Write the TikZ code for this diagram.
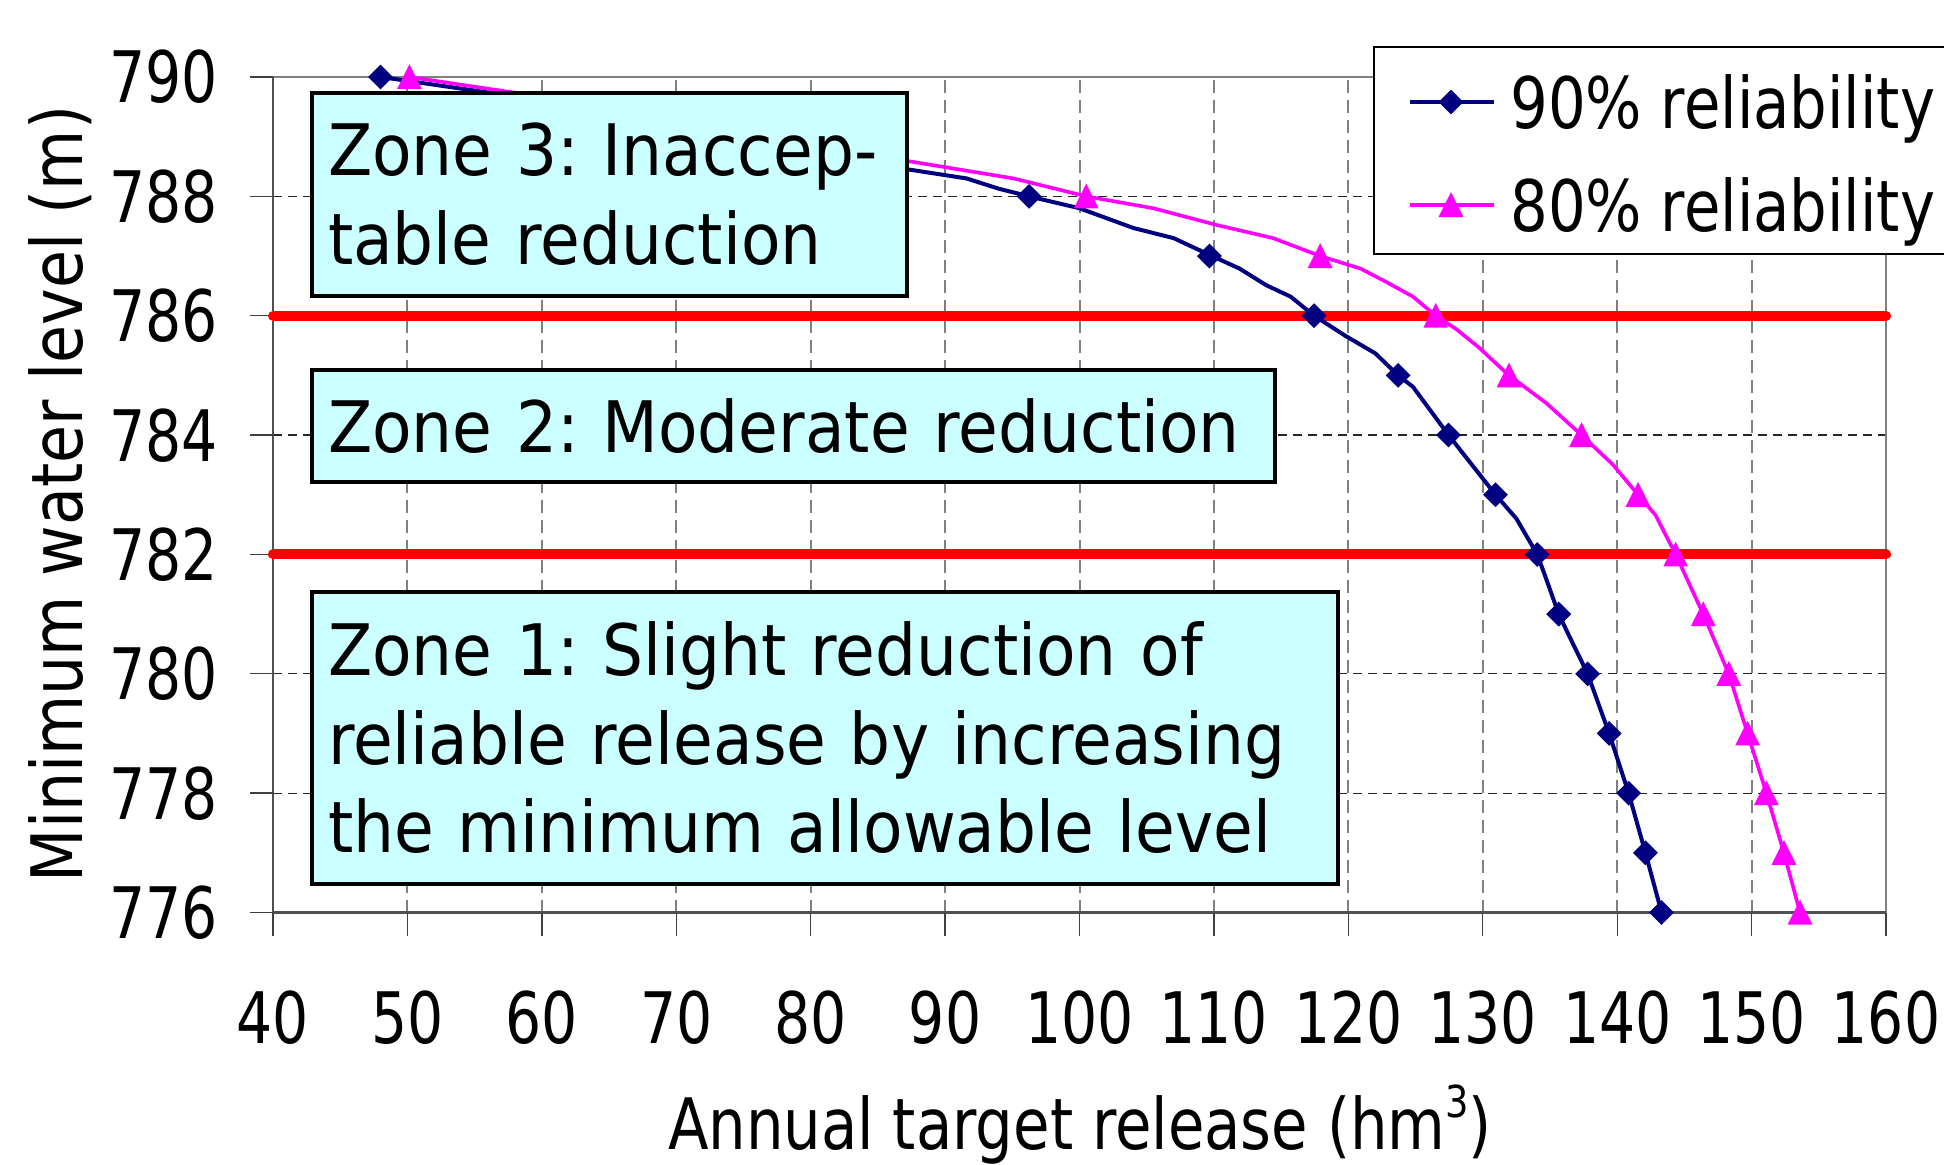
\documentclass[tikz,border=0pt]{standalone}
\usepackage{fontspec}
\setmainfont{DejaVu Sans}[FakeStretch=0.9]
\newfontfamily\zonefont{DejaVu Sans}[FakeStretch=0.91]
\newfontfamily\legfont{DejaVu Sans}[FakeStretch=0.835]
\newfontfamily\xtitlefont{DejaVu Sans}[FakeStretch=0.835]
\newfontfamily\ytitlefont{DejaVu Sans}[FakeStretch=0.87]
\newfontfamily\numfont{DejaVu Sans}[FakeStretch=0.8]

\definecolor{navyline}{RGB}{0,0,128}
\definecolor{pinkline}{RGB}{255,0,255}
\definecolor{zonecyan}{RGB}{204,255,255}
\definecolor{gridgray}{RGB}{128,128,128}
\definecolor{axisdark}{RGB}{80,80,80}
\definecolor{zonered}{RGB}{255,0,0}

\tikzset{
  bigtext/.style={inner sep=0pt, font=\fontsize{35.5pt}{44.3pt}\selectfont\frenchspacing},
  ticknum/.style={bigtext, font=\fontsize{35.5pt}{44.3pt}\selectfont\numfont},
  vgrid/.style={draw=gridgray, line width=1pt, dash pattern=on 6.5pt off 3.5pt},
  hgrid/.style={draw=black!85, line width=0.6pt, dash pattern=on 4.5pt off 3pt},
  framelight/.style={draw=gridgray, line width=1.3pt},
  framedark/.style={draw=axisdark, line width=1.3pt},
  tickmark/.style={draw=black!75, line width=0.7pt},
  zoneline/.style={draw=zonered, line width=5pt, line cap=round},
  series90/.style={draw=navyline, line width=2pt, line join=round},
  series80/.style={draw=pinkline, line width=1.8pt, line join=round},
  zonebox/.style={draw=black, line width=2pt, fill=zonecyan, align=left,
    anchor=north west, inner xsep=8pt, inner ysep=0pt,
    font=\fontsize{35.5pt}{44.3pt}\selectfont\zonefont\frenchspacing},
  legtext/.style={bigtext, anchor=base west, font=\fontsize{35.5pt}{44.3pt}\selectfont\legfont\frenchspacing},
  bluemark/.pic={\fill[navyline] (-6.2pt,0pt) -- (0pt,6.2pt) -- (6.2pt,0pt) -- (0pt,-6.2pt) -- cycle;},
  pinkmark/.pic={\fill[pinkline] (0pt,6.4pt) -- (6.2pt,-6pt) -- (-6.2pt,-6pt) -- cycle;}
}

\begin{document}
\begin{tikzpicture}[x=0.5pt,y=-0.5pt]
\useasboundingbox (0,0) rectangle (1944,1164);
\clip (0,0) rectangle (1944,1164);
\fill[white] (0,0) rectangle (1944,1164);

% plot area in data units: x = release, y = level - 776
\begin{scope}[shift={(-132.34pt,-456.25pt)}, x=6.721pt, y=29.84pt]
  % grid
  \foreach \v in {50,60,...,150} \draw[vgrid] (\v,0) -- (\v,14);
  \foreach \h in {2,4,...,12} \draw[hgrid] (40,\h) -- (160,\h);
  % frame
  \draw[framelight] (40,14) -- (160,14) -- (160,0);
  \draw[framedark] (40,14) -- (40,0) -- (160,0);
  % ticks
  \foreach \v in {40,50,...,160} \draw[tickmark] (\v,0) -- ++(0pt,-11.5pt);
  \foreach \h in {0,2,...,14} \draw[tickmark] (40,\h) -- ++(-11.5pt,0pt);
  % tick labels
  \foreach \v in {40,50,...,160}
    \node[ticknum, anchor=base, yshift=-65.25pt] (xl\v) at (\v,0) {\v};
  \foreach \m [evaluate=\m as \h using \m-776] in {776,778,...,790}
    \node[ticknum, anchor=base east, xshift=-27.5pt, yshift=-13pt] (yl\m) at (40,\h) {\m};
  % zone limits
  \draw[zoneline] (40,10) -- (160,10);
  \draw[zoneline] (40,6) -- (160,6);
  % 90% reliability
  \draw[series90] plot coordinates {(48,14) (56,13.74) (70,13.3) (80,12.9) (87,12.46)
    (91.6,12.30) (93.96,12.13) (96.25,12) (100,11.8) (104,11.47) (107,11.3)
    (109.66,11.02) (111.9,10.79) (113.9,10.51) (115.7,10.32) (117.45,10)
    (119.8,9.66) (122.0,9.37) (123.7,9) (124.8,8.81) (127.45,8) (129.9,7.3)
    (130.95,7) (132.5,6.6) (134.05,6) (134.7,5.6) (135.65,5) (136.5,4.6)
    (137.8,4) (139.4,3) (140.85,2) (142.1,1) (143.3,0)};
  \foreach \v/\h in {48/14, 96.25/12, 109.66/11, 117.45/10, 123.7/9, 127.45/8,
      130.95/7, 134.05/6, 135.65/5, 137.8/4, 139.4/3, 140.85/2, 142.1/1, 143.3/0}
    \pic at (\v,\h) {bluemark};
  % 80% reliability
  \draw[series80] plot coordinates {(50.15,14) (57,13.77) (70,13.35) (80,12.95)
    (87,12.6) (95.1,12.30) (100.5,12) (105.5,11.8) (110.2,11.52) (114.4,11.3)
    (117.9,11) (120.9,10.79) (122.7,10.58) (124.8,10.32) (126.5,10) (128.0,9.78)
    (129.75,9.46) (130.6,9.28) (131.95,9) (134.7,8.54) (137.35,8) (139.7,7.5)
    (141.55,7) (142.85,6.66) (144.35,6) (146.4,5) (148.3,4) (149.7,3)
    (151.1,2) (152.4,1) (153.6,0)};
  \foreach \v/\h in {50.15/14, 100.5/12, 117.9/11, 126.5/10, 131.95/9, 137.35/8,
      141.55/7, 144.35/6, 146.4/5, 148.3/4, 149.7/3, 151.1/2, 152.4/1, 153.6/0}
    \pic at (\v,\h) {pinkmark};
\end{scope}

% zone labels
\node[zonebox, minimum width=297.5pt, minimum height=101.75pt, text width=281.5pt]
  (zone3) at (310,90.5) {\mbox{Zone 3: Inaccep-}\\\mbox{table reduction}};
\node[zonebox, minimum width=481.5pt, minimum height=56pt, text width=465.5pt]
  (zone2) at (310,368) {\mbox{Zone 2: Moderate reduction}};
\node[zonebox, minimum width=513pt, minimum height=145.75pt, text width=497pt]
  (zone1) at (310,590) {\mbox{Zone 1: Slight reduction of}\\\mbox{reliable release by increasing}\\\mbox{the minimum allowable level}};

% legend
\draw[fill=white, draw=black, line width=1pt] (1374,47) rectangle (1960,254);
\draw[series90] (1410,102) -- (1494,102);
\pic at (1451,102) {bluemark};
\node[legtext] (leg90) at (1510,128) {90\% reliability};
\draw[series80] (1410,205) -- (1494,205);
\pic at (1451,205) {pinkmark};
\node[legtext] (leg80) at (1510,231) {80\% reliability};

% axis titles
\node[bigtext, anchor=base, font=\fontsize{35.5pt}{44.3pt}\selectfont\xtitlefont]
  (xtitle) at (1080,1149) {Annual target release (hm\raisebox{0.45em}{\fontsize{22pt}{22pt}\selectfont 3})};
\node[bigtext, anchor=base, rotate=90, font=\fontsize{35.5pt}{44.3pt}\selectfont\ytitlefont]
  (ytitle) at (83,494) {Minimum water level (m)};
\end{tikzpicture}
\end{document}
